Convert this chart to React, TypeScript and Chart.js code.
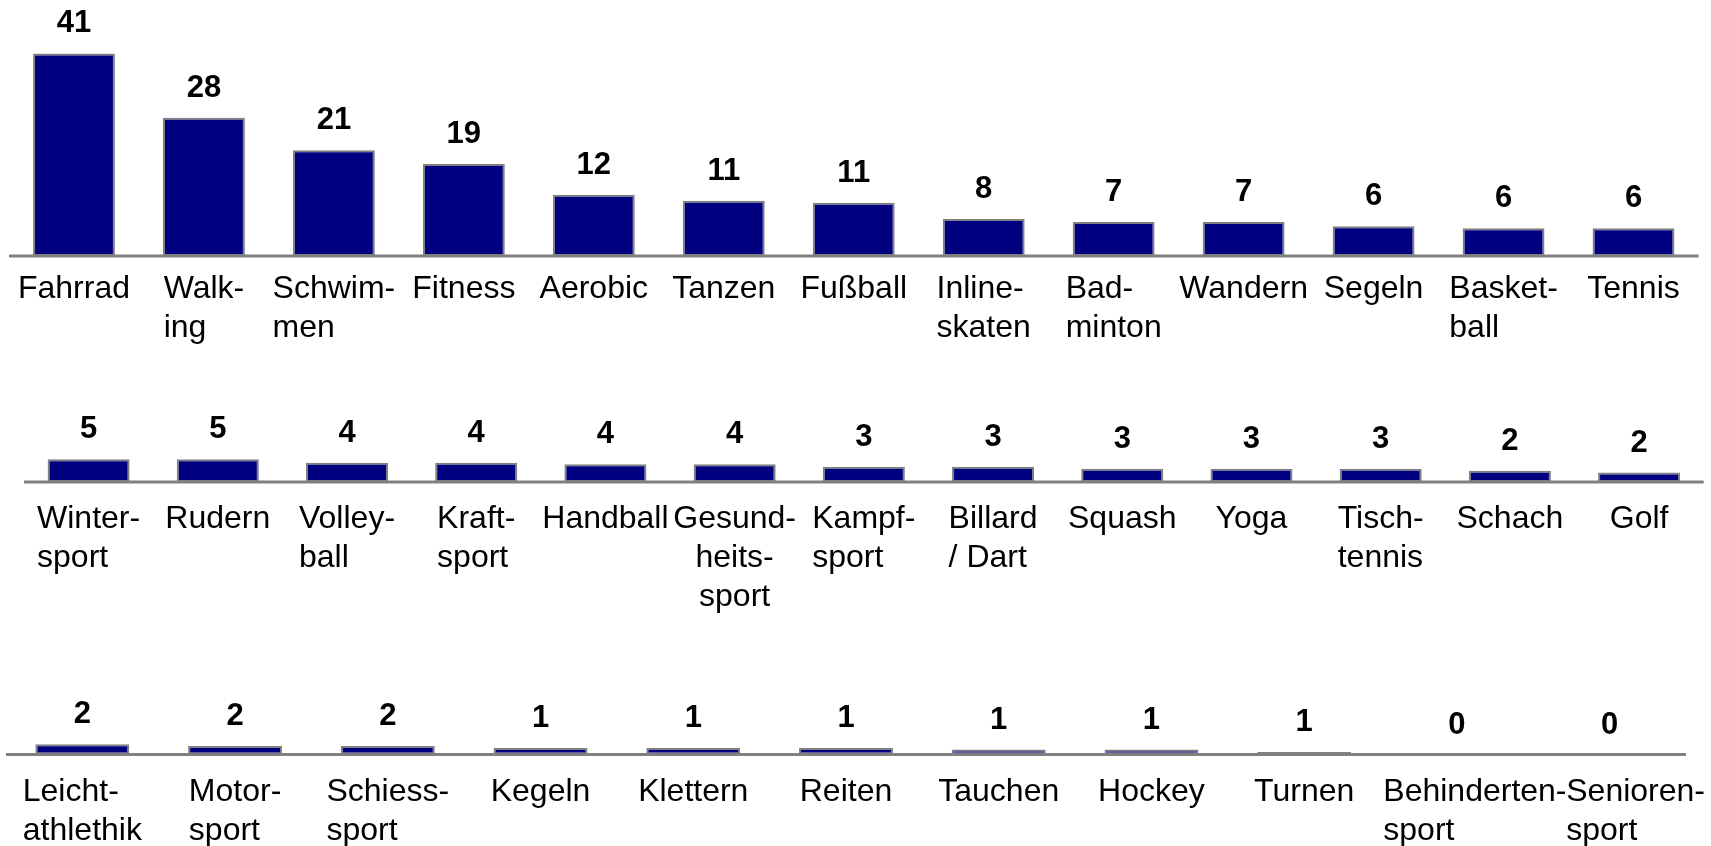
import React, { useEffect, useRef } from 'react';
import { Chart, registerables } from 'chart.js';

Chart.register(...registerables);

// ---- Data ----
const row1Categories: (string | string[])[] = [
  'Fahrrad', ['Walk-', 'ing'], ['Schwim-', 'men'], 'Fitness', 'Aerobic', 'Tanzen', 'Fußball',
  ['Inline-', 'skaten'], ['Bad-', 'minton'], 'Wandern', 'Segeln', ['Basket-', 'ball'], 'Tennis',
];
const row1Values = [41, 28, 21.4, 18.6, 12.4, 11.2, 10.8, 7.5, 6.9, 6.9, 6.0, 5.6, 5.6];

const row2Categories: (string | string[])[] = [
  ['Winter-', 'sport'], 'Rudern', ['Volley-', 'ball'], ['Kraft-', 'sport'], 'Handball',
  ['Gesund-', 'heits-', 'sport'], ['Kampf-', 'sport'], ['Billard', '/ Dart'], 'Squash', 'Yoga',
  ['Tisch-', 'tennis'], 'Schach', 'Golf',
];
const row2Values = [4.6, 4.6, 3.9, 3.9, 3.6, 3.6, 3.1, 3.1, 2.7, 2.7, 2.7, 2.3, 1.9];

const row3Categories: (string | string[])[] = [
  ['Leicht-', 'athlethik'], ['Motor-', 'sport'], ['Schiess-', 'sport'], 'Kegeln', 'Klettern',
  'Reiten', 'Tauchen', 'Hockey', 'Turnen', ['Behinderten-', 'sport'], ['Senioren-', 'sport'],
];
const row3Values = [2.1, 1.7, 1.7, 1.3, 1.3, 1.3, 1.0, 1.0, 0.5, 0, 0];

// ---- Styling / layout ----
const FONT = '"Liberation Sans", Arial, Helvetica, sans-serif';
const BAR_FILL = '#000080';
const BAR_BORDER = '#808080';
const PX_PER_UNIT = 4.94;

type RowLayout = {
  top: number;
  height: number;
  axisY: number; // local
  yMax: number;
  left: number;
  right: number;
  barPct: number;
  labelOffset: number;
  labelShift: Record<number, number>;
  centerLines: number[];
};

function makeOverlay(categories: (string | string[])[], values: number[], layout: RowLayout) {
  return {
    id: 'overlay',
    afterDatasetsDraw(chart: any) {
      const ctx = chart.ctx as CanvasRenderingContext2D;
      const xs = chart.scales.x;
      const ys = chart.scales.y;
      const y0 = ys.getPixelForValue(0);
      ctx.save();
      // axis line
      ctx.strokeStyle = BAR_BORDER;
      ctx.lineWidth = 3;
      ctx.beginPath();
      ctx.moveTo(chart.chartArea.left, y0);
      ctx.lineTo(chart.chartArea.right, y0);
      ctx.stroke();
      // value labels
      const meta = chart.getDatasetMeta(0);
      ctx.fillStyle = '#000';
      ctx.font = `bold 31px ${FONT}`;
      ctx.textAlign = 'center';
      ctx.textBaseline = 'alphabetic';
      meta.data.forEach((bar: any, i: number) => {
        ctx.fillText(String(Math.round(values[i])), bar.x, bar.y - 21);
      });
      // category labels: block centred, lines left-aligned
      ctx.font = `32px ${FONT}`;
      categories.forEach((lab, i) => {
        const lines = Array.isArray(lab) ? lab : [lab];
        const cx = xs.getPixelForValue(i) + (layout.labelShift[i] || 0);
        if (layout.centerLines.includes(i)) {
          ctx.textAlign = 'center';
          lines.forEach((l, k) => ctx.fillText(l, cx, y0 + layout.labelOffset + k * 39));
        } else {
          ctx.textAlign = 'left';
          const w = Math.max(...lines.map((l) => ctx.measureText(l).width));
          const x = cx - w / 2;
          lines.forEach((l, k) => ctx.fillText(l, x, y0 + layout.labelOffset + k * 39));
        }
      });
      ctx.restore();
    },
  };
}

function BarRow({ categories, values, layout }: { categories: (string | string[])[]; values: number[]; layout: RowLayout }) {
  const ref = useRef<HTMLCanvasElement>(null);
  useEffect(() => {
    if (!ref.current) return;
    const chartH = layout.yMax * PX_PER_UNIT;
    const padTop = layout.axisY - chartH;
    const padBottom = layout.height - layout.axisY;
    const chart = new Chart(ref.current, {
      type: 'bar',
      data: {
        labels: categories.map((c) => (Array.isArray(c) ? c.join(' ') : c)),
        datasets: [
          {
            data: values,
            backgroundColor: BAR_FILL,
            borderColor: BAR_BORDER,
            borderWidth: 2,
            borderSkipped: false,
            categoryPercentage: 1,
            barPercentage: layout.barPct,
          },
        ],
      },
      options: {
        responsive: false,
        animation: false,
        devicePixelRatio: 1,
        layout: { padding: { top: padTop, bottom: padBottom, left: layout.left, right: layout.right } },
        plugins: { legend: { display: false }, tooltip: { enabled: false } },
        scales: {
          x: { display: false, offset: true, grid: { display: false } },
          y: { display: false, min: 0, max: layout.yMax },
        },
      },
      plugins: [makeOverlay(categories, values, layout)],
    });
    return () => chart.destroy();
  }, []);
  return (
    <canvas
      ref={ref}
      width={1711}
      height={layout.height}
      style={{ position: 'absolute', left: 0, top: layout.top, width: 1711, height: layout.height }}
    />
  );
}

const row1Layout: RowLayout = {
  top: 0, height: 380, axisY: 256, yMax: 45, left: 9, right: 12.5, barPct: 0.63, labelOffset: 42,
  labelShift: {}, centerLines: [],
};
const row2Layout: RowLayout = {
  top: 380, height: 320, axisY: 102, yMax: 10, left: 24, right: 7.3, barPct: 0.635, labelOffset: 46,
  labelShift: {}, centerLines: [5],
};
const row3Layout: RowLayout = {
  top: 700, height: 146, axisY: 54.5, yMax: 5, left: 6, right: 25, barPct: 0.615, labelOffset: 46,
  labelShift: { 9: 18, 10: 26 }, centerLines: [],
};

export default function App() {
  return (
    <div style={{ position: 'absolute', left: 0, top: 0, width: 1711, height: 846, background: '#fff', overflow: 'hidden' }}>
      <BarRow categories={row1Categories} values={row1Values} layout={row1Layout} />
      <BarRow categories={row2Categories} values={row2Values} layout={row2Layout} />
      <BarRow categories={row3Categories} values={row3Values} layout={row3Layout} />
    </div>
  );
}
